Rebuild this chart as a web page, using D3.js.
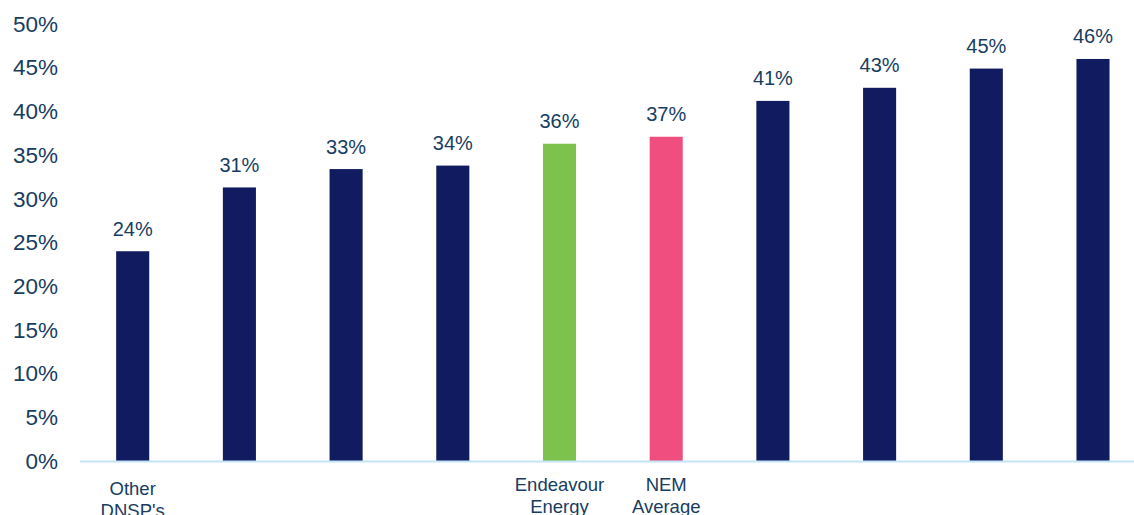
<!DOCTYPE html>
<html>
<head>
<meta charset="utf-8">
<script src="https://cdn.jsdelivr.net/npm/d3@7"></script>
<style>
  html, body { margin: 0; padding: 0; background: #ffffff; }
  svg { display: block; font-family: "Liberation Sans", Arial, sans-serif; }
</style>
</head>
<body>
<svg id="chart" width="1134" height="515"></svg>
<script>
// Share of each network, one bar per distributor
const categories = [["Other", "DNSP's"], [], [], [], ["Endeavour", "Energy"], ["NEM", "Average"], [], [], [], []];
const values = [0.240, 0.313, 0.334, 0.338, 0.363, 0.371, 0.412, 0.427, 0.449, 0.460];
const barKinds = ["dnsp", "dnsp", "dnsp", "dnsp", "endeavour", "nem", "dnsp", "dnsp", "dnsp", "dnsp"];
const yTicks = [0, 0.05, 0.10, 0.15, 0.20, 0.25, 0.30, 0.35, 0.40, 0.45, 0.50];

const palette = { dnsp: "#111b5f", endeavour: "#7cc24c", nem: "#f04e7f" };
const textColor = "#173d5f";
const axisColor = "#c3e3f6";

const svg = d3.select("#chart");
const fmt = d3.format(".0%");

const x = d3.scaleBand()
  .domain(d3.range(values.length))
  .range([79.35, 1146.35])
  .paddingInner(0.69)
  .paddingOuter(0.345);

const y = d3.scaleLinear().domain([0, 0.5]).range([461, 24]);

// Value axis: labels only, no domain line or tick marks
const yAxis = svg.append("g")
  .attr("transform", "translate(80,0)")
  .call(d3.axisLeft(y).tickValues(yTicks).tickFormat(fmt).tickSize(0).tickPadding(22));
yAxis.select(".domain").remove();
yAxis.selectAll("text")
  .attr("fill", textColor)
  .style("font-size", "22.5px")
  .style("font-family", "'Liberation Sans', Arial, sans-serif");

// Bars
svg.append("g").selectAll("rect")
  .data(values)
  .join("rect")
  .attr("x", (d, i) => x(i))
  .attr("width", x.bandwidth())
  .attr("y", d => y(d))
  .attr("height", d => y(0) - y(d))
  .attr("fill", (d, i) => palette[barKinds[i]]);

// Baseline
svg.append("line")
  .attr("x1", 80).attr("x2", 1134)
  .attr("y1", y(0) + 0.5).attr("y2", y(0) + 0.5)
  .attr("stroke", axisColor)
  .attr("stroke-width", 2);

// Value labels above bars
svg.append("g").selectAll("text")
  .data(values)
  .join("text")
  .attr("x", (d, i) => x(i) + x.bandwidth() / 2)
  .attr("y", d => y(d) - 15.5)
  .attr("text-anchor", "middle")
  .attr("fill", textColor)
  .style("font-size", "20px")
  .text(d => fmt(d));

// Category labels beneath the baseline
const cat = svg.append("g").selectAll("text")
  .data(categories)
  .join("text")
  .attr("x", (d, i) => x(i) + x.bandwidth() / 2)
  .attr("y", (d, i) => i === 0 ? 495 : 491)
  .attr("text-anchor", "middle")
  .attr("fill", textColor)
  .style("font-size", "18.5px");
cat.selectAll("tspan")
  .data(d => d)
  .join("tspan")
  .attr("x", function () { return this.parentNode.getAttribute("x"); })
  .attr("dy", (d, j) => j === 0 ? 0 : 21.5)
  .text(d => d);
</script>
</body>
</html>
